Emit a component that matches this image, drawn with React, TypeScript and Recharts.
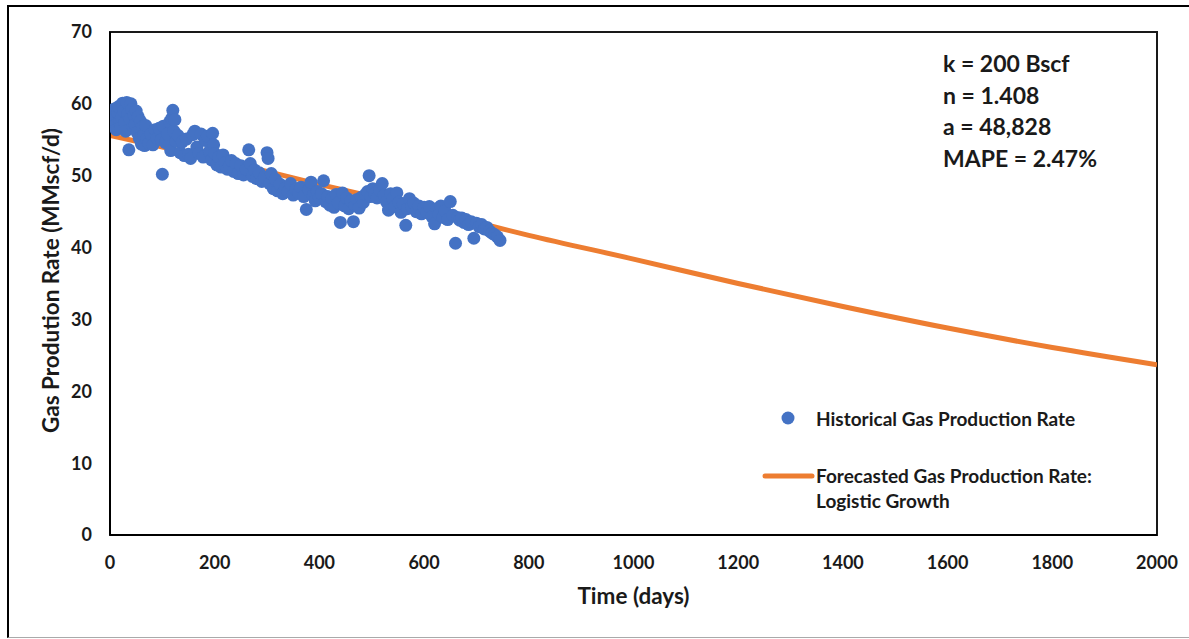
import {
  ComposedChart, Scatter, Line, XAxis, YAxis, ReferenceArea,
} from 'recharts';

// historical daily gas rate (day, MMscf/d)
const historical: [number, number][] = [
  [2, 57.8], [4, 57.2], [6, 58.5], [8, 59.3], [10, 57.0], [12, 56.4], [14, 58.8], [16, 59.6],
  [18, 57.5], [20, 56.8], [22, 58.1], [24, 60.1], [26, 59.0], [28, 57.4], [30, 56.2], [32, 60.2],
  [34, 58.6], [36, 53.6], [38, 57.9], [40, 60.0], [42, 59.2], [44, 56.9], [46, 58.4], [48, 57.1],
  [50, 59.0], [52, 56.0], [54, 58.2], [56, 55.2], [58, 57.6], [60, 54.4], [62, 56.8], [64, 55.6],
  [66, 54.2], [68, 57.0], [70, 55.1], [74, 54.5], [78, 55.8], [82, 54.3], [86, 56.4], [90, 55.2],
  [94, 56.6], [98, 55.0], [100, 50.2], [102, 56.9], [106, 54.6], [110, 55.8], [114, 57.5], [116, 53.5],
  [118, 58.0], [120, 59.1], [122, 56.2], [124, 57.8], [126, 54.8], [130, 55.6], [134, 53.2], [138, 54.7],
  [142, 52.8], [146, 55.1], [150, 53.0], [154, 52.4], [158, 55.7], [162, 56.2], [166, 54.0], [170, 53.1],
  [174, 55.8], [178, 52.6], [182, 54.9], [186, 55.5], [190, 53.4], [194, 52.2], [196, 55.9], [198, 54.3],
  [200, 53.1], [204, 51.5], [208, 52.6], [212, 51.2], [216, 52.9], [220, 51.8], [224, 50.9], [228, 51.3],
  [232, 52.1], [236, 50.6], [240, 51.7], [245, 50.3], [250, 51.4], [255, 50.1], [260, 50.9], [265, 53.6],
  [268, 51.7], [272, 49.9], [276, 50.8], [280, 49.6], [285, 50.4], [290, 49.2], [295, 49.8], [300, 53.2],
  [302, 52.4], [305, 48.9], [308, 50.3], [312, 48.2], [316, 49.5], [320, 47.9], [325, 48.8], [330, 47.5],
  [335, 48.3], [340, 47.8], [345, 48.9], [350, 47.3], [355, 48.1], [360, 47.6], [365, 48.4], [370, 47.1],
  [375, 45.3], [380, 48.0], [384, 49.1], [388, 47.2], [392, 46.5], [396, 47.8], [400, 46.9], [404, 47.5],
  [408, 49.3], [412, 46.4], [416, 47.1], [420, 45.9], [424, 46.8], [428, 45.6], [432, 47.4], [436, 46.2],
  [440, 43.5], [444, 47.6], [448, 45.8], [452, 46.9], [456, 45.4], [460, 46.5], [465, 43.6], [468, 45.9],
  [472, 46.7], [476, 45.5], [480, 47.0], [484, 46.3], [488, 47.4], [492, 47.8], [495, 50.0], [498, 47.1],
  [502, 48.2], [506, 47.5], [510, 46.9], [515, 48.0], [520, 48.9], [524, 47.3], [528, 46.4], [532, 45.2],
  [536, 47.5], [540, 46.8], [544, 45.7], [548, 47.6], [552, 46.3], [556, 44.9], [560, 46.1], [565, 43.1],
  [568, 45.4], [572, 46.8], [576, 45.7], [580, 46.2], [585, 45.0], [590, 45.8], [595, 44.7], [600, 45.6],
  [605, 44.9], [610, 45.7], [615, 44.3], [620, 43.3], [624, 45.4], [628, 44.6], [632, 45.8], [636, 44.2],
  [640, 45.1], [645, 43.9], [650, 46.4], [655, 44.5], [660, 40.6], [664, 44.2], [668, 43.8], [672, 44.1],
  [676, 43.5], [680, 43.9], [685, 43.2], [690, 43.6], [695, 41.3], [700, 43.4], [705, 42.9], [710, 43.2],
  [715, 42.6], [720, 42.8], [725, 42.3], [730, 42.0], [735, 41.8], [740, 41.5], [745, 41.0],
];

// logistic growth forecast
const forecastDays = [0, 100, 200, 300, 400, 500, 600, 700, 800, 1000, 1200, 1400, 1600, 1800, 2000];
const forecastRates = [55.6, 54.0, 52.3, 50.6, 48.8, 47.1, 45.3, 43.5, 41.7, 38.4, 35.0, 31.8, 28.8, 26.1, 23.7];

const xTicks = [0, 200, 400, 600, 800, 1000, 1200, 1400, 1600, 1800, 2000];
const yTicks = [0, 10, 20, 30, 40, 50, 60, 70];

const fitParams = ['k = 200 Bscf', 'n = 1.408', 'a = 48,828', 'MAPE = 2.47%'];

const BLUE = '#4472C4';
const ORANGE = '#ED7D31';
const FONT = 'Lato, "Open Sans", sans-serif';
const INK = '#1a1a1a';

const histData = historical.map(([x, y]) => ({ x, y }));
const forecastData = forecastDays.map((x, i) => ({ x, y: forecastRates[i] }));

const Dot = (p: any) => <circle cx={p.cx} cy={p.cy} r={6.5} fill={BLUE} />;

const tickStyle = { fill: INK, fontSize: 18, fontWeight: 700, fontFamily: FONT };

export default function App() {
  return (
    <div style={{ position: 'absolute', left: 0, top: 0, width: 1189, height: 639, background: '#fff', overflow: 'hidden' }}>
      <div style={{
        position: 'absolute', left: 7, top: 5, width: 1200, height: 630,
        borderLeft: '2px solid #000', borderTop: '2px solid #000', borderBottom: '1px solid #aaa',
      }} />
      <div style={{ position: 'absolute', left: 0, top: 0 }}>
        <ComposedChart width={1189} height={639} margin={{ top: 32, right: 32, bottom: 74, left: 50 }}>
          <XAxis
            dataKey="x" type="number" domain={[0, 2000]} ticks={xTicks} allowDataOverflow
            axisLine={{ stroke: '#000', strokeWidth: 2 }} tickLine={false} tickSize={0} tickMargin={21}
            height={30} tick={tickStyle}
            label={{
              content: (p: any) => (
                <text x={p.viewBox.x + p.viewBox.width / 2} y={p.viewBox.y + 69} textAnchor="middle"
                  fill={INK} fontSize={22.5} fontWeight={700} fontFamily={FONT}>Time (days)</text>
              ),
            }}
          />
          <YAxis
            dataKey="y" type="number" domain={[0, 70]} ticks={yTicks} allowDataOverflow
            axisLine={{ stroke: '#000', strokeWidth: 2 }} tickLine={false} tickSize={0} tickMargin={18}
            width={60} tick={tickStyle}
            label={{
              content: (p: any) => {
                const cx = p.viewBox.x + 9;
                const cy = p.viewBox.y + p.viewBox.height / 2 - 3;
                return (
                  <text x={cx} y={cy} transform={`rotate(-90 ${cx} ${cy})`} textAnchor="middle"
                    fill={INK} fontSize={22.5} fontWeight={700} fontFamily={FONT}>Gas Prodution Rate (MMscf/d)</text>
                );
              },
            }}
          />
          <ReferenceArea x1={0} x2={2000} y1={0} y2={70} fill="none" stroke="#000" strokeWidth={2} strokeOpacity={0.9} />
          <Scatter name="Historical Gas Production Rate" data={histData} dataKey="y" fill={BLUE}
            shape={Dot} isAnimationActive={false} />
          <Line name="Forecasted Gas Production Rate: Logistic Growth" data={forecastData} dataKey="y"
            type="monotone" stroke={ORANGE} strokeWidth={5} dot={false} activeDot={false} isAnimationActive={false} />
        </ComposedChart>
      </div>
      {/* legend */}
      <div style={{ position: 'absolute', left: 760, top: 405, fontFamily: FONT, fontWeight: 700, fontSize: 19, color: INK, lineHeight: '25px' }}>
        <div style={{ display: 'flex', alignItems: 'center', height: 26 }}>
          <svg width={56} height={20}><circle cx={28} cy={10} r={6.5} fill={BLUE} /></svg>
          <span>Historical Gas Production Rate</span>
        </div>
        <div style={{ display: 'flex', alignItems: 'flex-start', marginTop: 32 }}>
          <svg width={56} height={25}><line x1={5} x2={52} y1={13} y2={13} stroke={ORANGE} strokeWidth={5} strokeLinecap="round" /></svg>
          <span>Forecasted Gas Production Rate:<br />Logistic Growth</span>
        </div>
      </div>
      <div style={{ position: 'absolute', left: 943, top: 48, fontFamily: FONT, fontWeight: 700, fontSize: 23, color: INK, lineHeight: '31.5px' }}>
        {fitParams.map(t => <div key={t}>{t}</div>)}
      </div>
    </div>
  );
}
